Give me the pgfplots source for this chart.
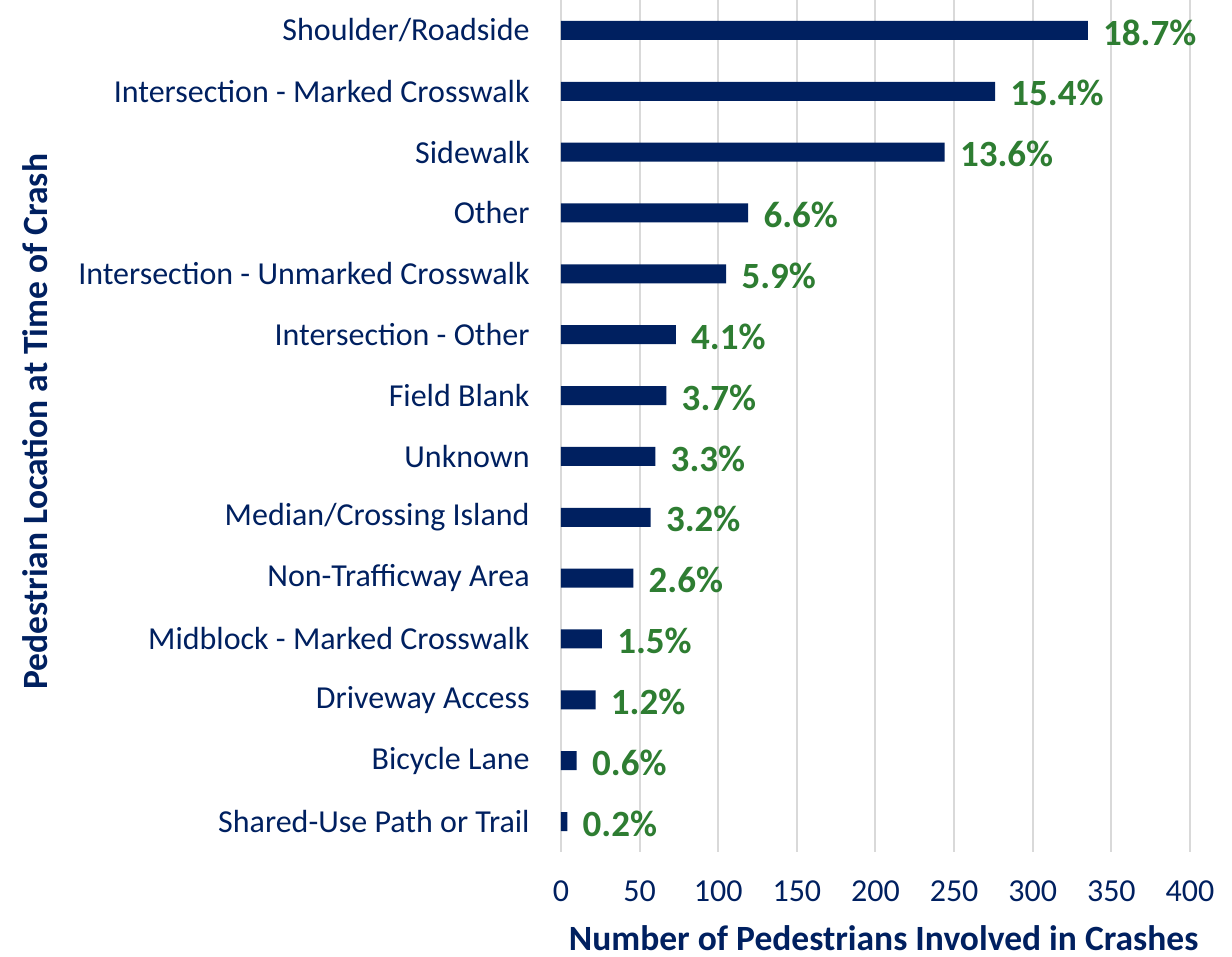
\documentclass[border=0pt]{standalone}
\usepackage{pgfplots}
\pgfplotsset{compat=1.18}
\usepackage{pgfplotstable}
\usepackage{fontspec}
\setmainfont{Carlito}
\definecolor{navy}{HTML}{002060}
\definecolor{lblgreen}{HTML}{2E7D32}
\definecolor{gridc}{HTML}{D9D9D9}
\pgfplotstableread{
idx val lab
0 4 0.2
1 10 0.6
2 22 1.2
3 26 1.5
4 46 2.6
5 57 3.2
6 60 3.3
7 67 3.7
8 73 4.1
9 105 5.9
10 119 6.6
11 244 13.6
12 276 15.4
13 335 18.7
}\datatable
\begin{document}
\begin{tikzpicture}
\useasboundingbox (-280.5pt,-52.5pt) rectangle (335.5pt,426pt);
\begin{axis}[at={(0,0)}, anchor=south west, scale only axis,
  width=314.5pt, height=426pt,
  xbar, xmin=0, xmax=400, ymin=-0.5, ymax=13.5, bar width=9.5pt,
  ytick={0,...,13},
  yticklabels={Shared-Use Path or Trail, Bicycle Lane, Driveway Access, Midblock - Marked Crosswalk, Non-Trafficway Area, Median/Crossing Island, Unknown, Field Blank, Intersection - Other, Intersection - Unmarked Crosswalk, Other, Sidewalk, Intersection - Marked Crosswalk, Shoulder/Roadside},
  xtick={0,50,...,400},
  xmajorgrids, ymajorgrids=false,
  major grid style={gridc, line width=1pt},
  axis line style={draw=none},
  major tick length=0pt,
  /pgf/number format/assume math mode=true,
  tick label style={font=\fontsize{16}{19}\selectfont, text=navy, inner sep=0pt},
  yticklabel style={anchor=east, xshift=-15.5pt},
  xticklabel style={anchor=north, yshift=-14pt},
  xlabel={Number of Pedestrians Involved in Crashes},
  ylabel={Pedestrian Location at Time of Crash},
  label style={font=\bfseries\fontsize{17.75}{21}\selectfont, text=navy, inner sep=0pt},
  xlabel style={at={(axis description cs:0.513,-0.1015)}, anchor=center},
  ylabel style={at={(axis description cs:-0.836,0.505)}, anchor=center},
  nodes near coords={\pgfplotspointmeta\%},
  point meta=explicit symbolic,
  every node near coord/.append style={font=\bfseries\fontsize{18.5}{22}\selectfont, text=lblgreen, anchor=west, inner sep=0pt, xshift=7.5pt, yshift=-1pt},
]
\addplot[fill=navy, draw=none] table[x=val, y=idx, meta=lab] {\datatable};
\end{axis}
\end{tikzpicture}
\end{document}
